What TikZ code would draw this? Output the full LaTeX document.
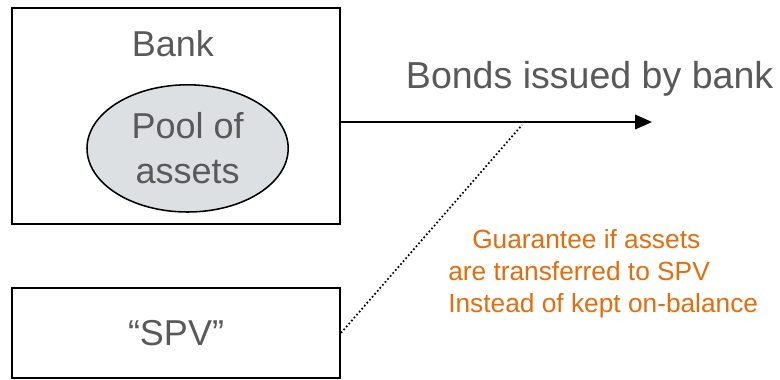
\documentclass[tikz,border=0pt]{standalone}
\usepackage{fontspec}
\setmainfont{Liberation Sans}
\usepackage{tikz}
\usetikzlibrary{
  positioning, arrows.meta, shapes.geometric, calc
}
\definecolor{textGray}{HTML}{595959}
\definecolor{poolGray}{HTML}{DDE0E2}
\definecolor{noteOrange}{HTML}{E46C0A}

\begin{document}
\begin{tikzpicture}[
  % Styles
  entity/.style={
    rectangle, draw=black, line width=1.4pt,
    minimum width=8.2cm, minimum height=#1,
    inner sep=0pt,
    font=\fontsize{25.6}{30}\selectfont, text=textGray
  },
  pool/.style={
    ellipse, draw=black, line width=1.1pt, fill=poolGray,
    minimum width=5.03cm, minimum height=3.18cm, inner sep=0pt,
    font=\fontsize{25.6}{32}\selectfont, text=textGray, align=center
  },
  biglabel/.style={
    font=\fontsize{#1}{30}\selectfont, text=textGray, inner sep=0pt
  },
  notelabel/.style={
    font=\fontsize{18.7}{22.8}\selectfont, text=noteOrange,
    align=left, inner sep=0pt
  },
  arrowbond/.style={
    -{Triangle[length=0.42cm, width=0.36cm]}, line width=1.4pt
  },
  linkdots/.style={
    line width=1.2pt, dash pattern=on 1.2pt off 1.6pt
  },
]

\useasboundingbox (0,0) rectangle (19.5,-9.5);

% === BOXES ===
\node[entity=5.4cm] (bank) at (4.4,-2.9) {};
\node[entity=2.25cm] (spv) at (4.4,-8.325) {``SPV''};

% === Bank content ===
\node[biglabel=25.6, below=0.58cm of bank.north, xshift=-0.08cm] (banklabel) {Bank};
\node[pool] (pool) at (4.69,-3.71) {Pool of\\assets};

% === Bonds ===
\node[biglabel=26.7] (bonds) at (14.74,-1.97) {Bonds issued by bank};
\coordinate (bondtip) at (16.3,-3.05);
\draw[arrowbond] (bank.east |- bondtip) -- (bondtip);

% === Guarantee link ===
\coordinate (guaranteeend) at (13.05,-3.125);
\draw[linkdots] (spv.east) -- (guaranteeend);
\node[notelabel, anchor=north west] (guarantee) at (11.2,-5.73) {
  \hspace*{0.6cm}Guarantee if assets\\
  are transferred to SPV\\
  Instead of kept on-balance
};

\end{tikzpicture}
\end{document}
